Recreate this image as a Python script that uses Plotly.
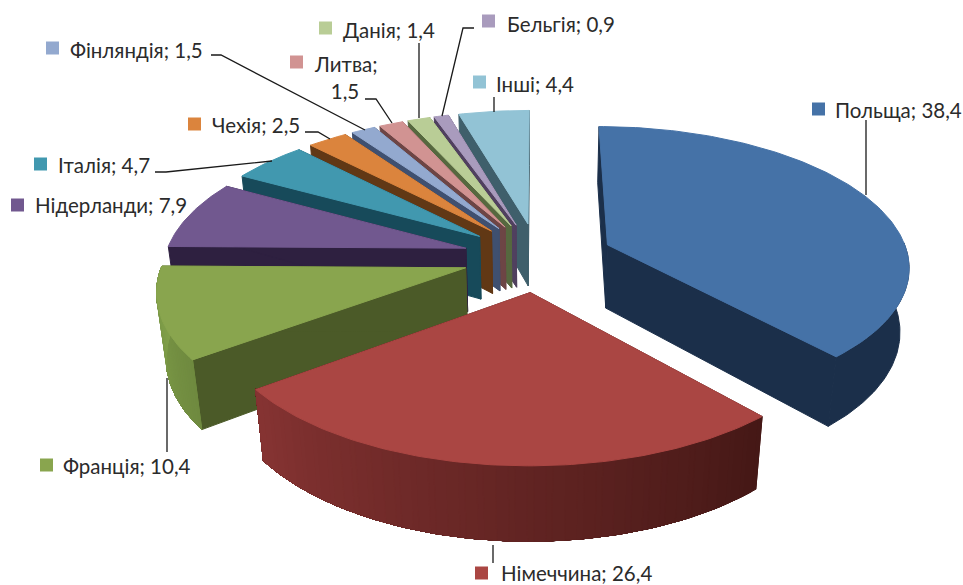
import math
import plotly.graph_objects as go

# ---- data ----
countries = ["Польща", "Німеччина", "Франція", "Нідерланди", "Італія", "Чехія",
             "Фінляндія", "Литва", "Данія", "Бельгія", "Інші"]
values = [38.4, 26.4, 10.4, 7.9, 4.7, 2.5, 1.5, 1.5, 1.4, 0.9, 4.4]

# ---- styles ----
top_colors = ["#4572A7", "#AA4643", "#89A54E", "#71588F", "#4198AF", "#DB843D",
              "#93A9CF", "#D19392", "#B9CD96", "#A99BBD", "#92C3D5"]
wall_colors = ["#1B2F4A", "#4A1A18", "#4B5A28", "#2E2040", "#174A5A", "#613815",
               "#3F5070", "#6D4545", "#56683F", "#50405F", "#3F5F6B"]
arc_from = {0: "#1B2F4A", 1: "#451816", 2: "#6F8A3F"}
arc_to = {0: "#1B2F4A", 1: "#853332", 2: "#81A04A"}
draw_order = [10, 9, 8, 7, 6, 5, 4, 3, 2, 0, 1]

# ---- projection of the exploded, tilted pie ----
X0, Y0, SX, SY, HEIGHT = 538, 257, 301, 138, 66
K, M, PULL = 0.14, 0.025, 0.25


def project(x, y, z=0.0):
    w = 1 + K * y + M * z
    return X0 + SX * x / w, Y0 - SY * y / w + HEIGHT * z / w ** 1.3


def hex_mix(a, b, t):
    ca = [int(a[i:i + 2], 16) for i in (1, 3, 5)]
    cb = [int(b[i:i + 2], 16) for i in (1, 3, 5)]
    return "#%02X%02X%02X" % tuple(round(p + (q - p) * t) for p, q in zip(ca, cb))


def poly(points, color):
    xs = [p[0] for p in points] + [points[0][0]]
    ys = [p[1] for p in points] + [points[0][1]]
    return go.Scatter(x=xs, y=ys, mode="lines", fill="toself", fillcolor=color,
                      line=dict(color=color, width=1), hoverinfo="skip", showlegend=False)


total = sum(values)
starts, cum = [], 0.0
for v in values:
    starts.append(cum / total * 2 * math.pi)
    cum += v
ends = starts[1:] + [2 * math.pi]

fig = go.Figure()

for i in draw_order:
    a0, a1 = starts[i], ends[i]
    mid = (a0 + a1) / 2
    ox, oy = PULL * math.sin(mid), PULL * math.cos(mid)
    at = lambda a: (ox + math.sin(a), oy + math.cos(a))
    n = max(4, int((a1 - a0) / math.radians(1.0)))
    angs = [a0 + (a1 - a0) * j / n for j in range(n + 1)]
    # radial walls
    for a in (a0, a1):
        ex, ey = at(a)
        fig.add_trace(poly([project(ox, oy), project(ex, ey),
                            project(ex, ey, 1), project(ox, oy, 1)], wall_colors[i]))
    # outer wall: each band runs on to the end of the arc, so that the next one paints over it
    front = [a for a in angs if math.cos(a) < 0.02]
    if len(front) > 1:
        bands = 60 if i in arc_from and arc_from[i] != arc_to[i] else 1
        for b in range(bands):
            part = front[int(b * (len(front) - 1) / bands):]
            c = hex_mix(arc_from.get(i, wall_colors[i]), arc_to.get(i, wall_colors[i]), b / max(1, bands - 1))
            upper = [project(*at(a)) for a in part]
            lower = [project(*at(a), 1) for a in reversed(part)]
            fig.add_trace(poly(upper + lower, c))
    # top face
    fig.add_trace(poly([project(ox, oy)] + [project(*at(a)) for a in angs], top_colors[i]))

# ---- labels ----
TEXT = "#2B2B2B"
FONT = "Lato, 'Open Sans', sans-serif"
label_text = [f"{c}; {str(v).replace('.', ',')}" for c, v in zip(countries, values)]
label_text[7] = label_text[7].replace("; ", ";<br>   ")
# text left edge, text centre y, key left edge, key centre y
label_pos = [(833, 110, 812, 109), (499, 573, 475, 573), (61, 466, 40, 465),
             (33, 205, 11, 205), (56, 165, 34, 164), (210, 125, 188, 124),
             (68, 50, 46, 48), (312, 77, 290, 62), (341, 30, 319, 28),
             (505, 24, 482, 21), (494, 84, 473, 82)]
leaders = [[(866, 120), (866, 195)], [(493, 545), (493, 563)], [(167, 378), (167, 452)], [],
           [(155, 172), (166, 172), (272, 161)], [(305, 132), (318, 132), (330, 139)],
           [(211, 55), (221, 55), (365, 130)], [(365, 99), (376, 99), (392, 123)],
           [(419, 43), (419, 118)], [(474, 28), (463, 28), (442, 116)], [(494, 97), (494, 112)]]

for i, (tx, ty, kx, ky) in enumerate(label_pos):
    fig.add_annotation(x=tx, y=ty, text=label_text[i], showarrow=False, xanchor="left", yanchor="middle",
                       align="left", font=dict(family=FONT, size=20.5, color=TEXT))
    fig.add_trace(go.Scatter(x=[kx + 6.5], y=[ky], mode="markers", hoverinfo="skip", showlegend=False,
                             marker=dict(symbol="square", size=13, color=top_colors[i])))
    if leaders[i]:
        fig.add_trace(go.Scatter(x=[p[0] for p in leaders[i]], y=[p[1] for p in leaders[i]], mode="lines",
                                 hoverinfo="skip", showlegend=False, line=dict(color="#1A1A1A", width=1.3)))

fig.update_layout(width=963, height=585, margin=dict(l=0, r=0, t=0, b=0),
                  paper_bgcolor="white", plot_bgcolor="white", showlegend=False,
                  xaxis=dict(range=[0, 963], visible=False, fixedrange=True),
                  yaxis=dict(range=[585, 0], visible=False, fixedrange=True))
fig.write_html("out.html", config={"displayModeBar": False},
               post_script="document.body.style.margin='0';document.body.style.overflow='hidden';")
